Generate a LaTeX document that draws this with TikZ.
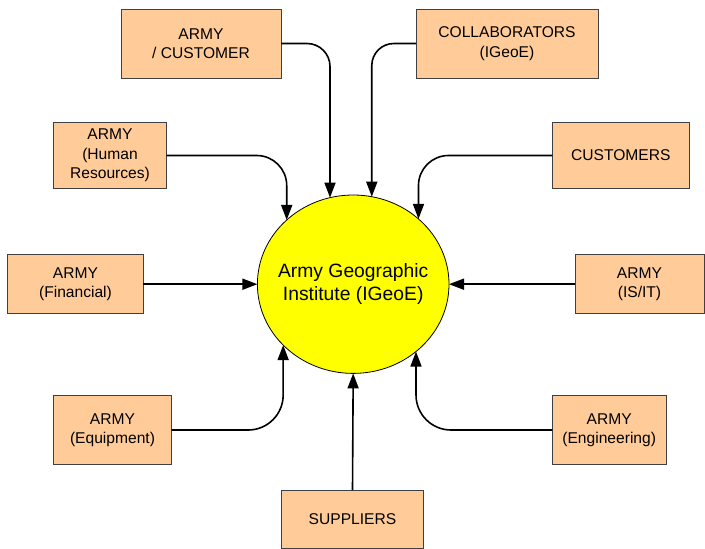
\documentclass[tikz,border=0pt]{standalone}
\usepackage{fontspec}
\setmainfont{Liberation Sans}
\usetikzlibrary{arrows.meta,shapes.geometric}
\definecolor{peach}{HTML}{FFCC99}
\definecolor{boxline}{HTML}{404040}
\definecolor{sunyellow}{HTML}{FFFF00}
\begin{document}
\begin{tikzpicture}[x=1pt,y=-1pt,
  entity/.style={draw=boxline,line width=0.9pt,fill=peach,inner sep=0pt,outer sep=0pt,
    align=center,font=\fontsize{15.6}{19.5}\selectfont},
  flow/.style={line width=1.6pt,-{Triangle[length=15pt,width=11pt]}},
  hub/.style={ellipse,draw=black,line width=0.8pt,fill=sunyellow,inner sep=0pt,outer sep=0pt,
    minimum width=191.6pt,minimum height=178.4pt}]
\useasboundingbox (0,0) rectangle (705,549);
\fill[white] (0,0) rectangle (705,549);

\node[hub] (ell) at (353.2,284.2) {};
\node[align=center,inner sep=0pt,font=\fontsize{19.3}{22.4}\selectfont] (ellt) at (ell.center)
  {Army Geographic\\Institute (IGeoE)};

\node[entity,minimum width=160pt,minimum height=69pt] (armcust) at (201,43.5) {ARMY\\/ CUSTOMER};
\node[entity,minimum width=182pt,minimum height=69pt] (collab) at (507,43.5) {COLLABORATORS\\(IGeoE)};
\node[entity,minimum width=113.4pt,minimum height=65.6pt] (hr) at (110,155.5) {ARMY\\(Human\\Resources)};
\node[entity,minimum width=137pt,minimum height=66pt] (cust) at (620.8,155.5) {CUSTOMERS};
\node[entity,minimum width=135.6pt,minimum height=59pt] (fin) at (75.5,284.2) {ARMY\\(Financial)};
\node[entity,minimum width=129pt,minimum height=59pt] (isit) at (639.5,284.2) {ARMY\\(IS/IT)};
\node[entity,minimum width=118.4pt,minimum height=68.6pt] (equip) at (112.5,430) {ARMY\\(Equipment)};
\node[entity,minimum width=113.7pt,minimum height=68.6pt] (eng) at (609.2,430) {ARMY\\(Engineering)};
\node[entity,minimum width=141.6pt,minimum height=58pt] (sup) at (352.5,519) {SUPPLIERS};

\draw[flow,rounded corners=23pt] (armcust.east) -| (ell.105);
\draw[flow,rounded corners=22pt] (collab.west) -| (ell.78.5);
\draw[flow,rounded corners=30pt] (hr.east) -| (ell.136);
\draw[flow,rounded corners=30pt] (cust.west) -| (ell.45.7);
\draw[flow] (fin.east) -- (ell.west);
\draw[flow] (isit.west) -- (ell.east);
\draw[flow,rounded corners=35pt] (equip.east) -| (ell.221.1);
\draw[flow,rounded corners=35pt] (eng.west) -| (ell.313.6);
\draw[flow] (sup.north) -- (ell.south);
\end{tikzpicture}
\end{document}
